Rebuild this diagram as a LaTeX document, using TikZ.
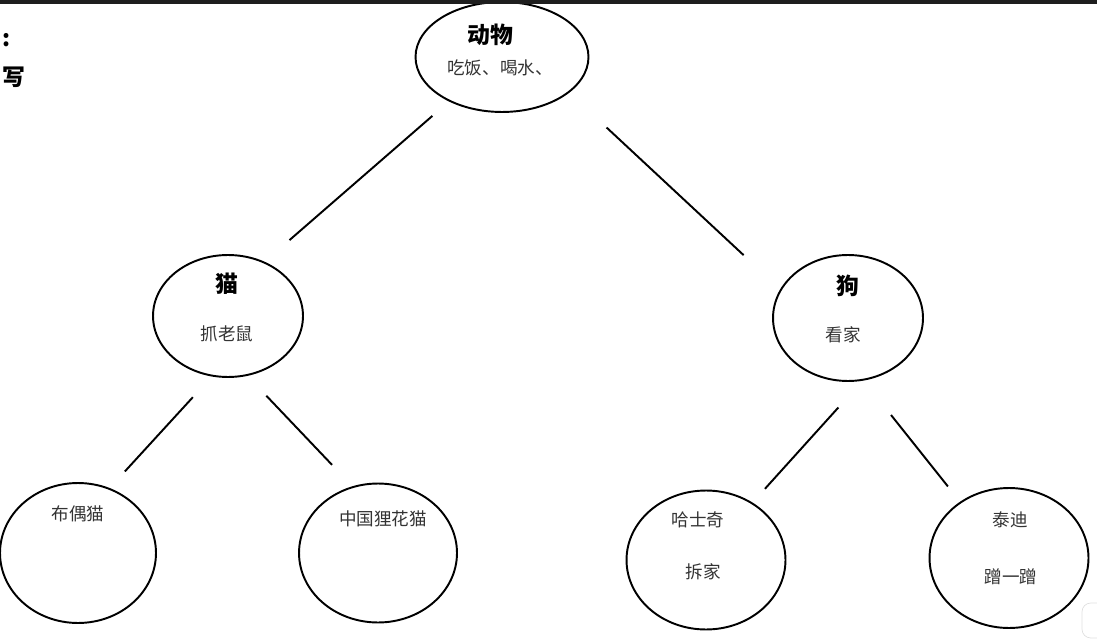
\documentclass[tikz,border=0pt]{standalone}
\usepackage{fontspec}
\setmainfont{Noto Sans CJK SC}
\usetikzlibrary{arrows,positioning,shapes.geometric}
\definecolor{txtgray}{HTML}{333333}
\definecolor{bargray}{HTML}{1E1E1E}

\begin{document}
\begin{tikzpicture}[x=0.02cm,y=-0.02cm,
  animal/.style={draw,ellipse,line width=1.1pt,inner sep=0pt},
  head/.style={font=\bfseries\fontsize{13}{15}\selectfont,black},
  note/.style={font=\fontsize{10}{12}\selectfont,txtgray},
  link/.style={line width=1.1pt}]
\useasboundingbox (0,0) rectangle (1097,641);
\clip (0,0) rectangle (1097,641);

\node[animal,minimum width=3.46cm,minimum height=2.2cm] (dw) at (502,57) {};
\node[animal,minimum width=3cm,minimum height=2.44cm] (mao) at (228,316) {};
\node[animal,minimum width=3cm,minimum height=2.52cm] (gou) at (848,318) {};
\node[animal,minimum width=3.12cm,minimum height=2.8cm] (bo) at (78,553) {};
\node[animal,minimum width=3.16cm,minimum height=2.78cm] (li) at (378,553) {};
\node[animal,minimum width=3.18cm,minimum height=2.78cm] (ha) at (706,560) {};
\node[animal,minimum width=3.18cm,minimum height=2.8cm] (tai) at (1009,558) {};

\node[head] (dwt) at (490,35) {动物};
\node[note] (dws) at (500,68) {吃饭、喝水、};
\node[head] (maot) at (227,284) {猫};
\node[note] (maos) at (227,334) {抓老鼠};
\node[head] (gout) at (848,286) {狗};
\node[note] (gous) at (843,335) {看家};
\node[note] (bot) at (78,514) {布偶猫};
\node[note] (lit) at (383,519) {中国狸花猫};
\node[note] (hat) at (698,520) {哈士奇};
\node[note] (has) at (703,572) {拆家};
\node[note] (tait) at (1010,520) {泰迪};
\node[note] (tais) at (1011,577) {蹭一蹭};

\draw[link,shorten <=0.44cm,shorten >=0.66cm] (dw.220) -- (mao.56);
\draw[link,shorten <=1.02cm,shorten >=1cm] (dw.332) -- (gou.157);
\draw[link,shorten <=0.56cm,shorten >=0.45cm] (mao.255) -- (bo.64);
\draw[link,shorten <=0.55cm,shorten >=0.59cm] (mao.288) -- (li.111);
\draw[link,shorten <=0.72cm,shorten >=0.37cm] (gou.283) -- (ha.51);
\draw[link,shorten <=0.88cm,shorten >=0.39cm] (gou.284) -- (tai.131);

\node[head,inner sep=0pt] (colon) at (7,40) {:};
\node[head,inner sep=0pt] (xie) at (14,77) {写};

\fill[bargray] (0,0) rectangle (1097,4);
\draw[gray!25,rounded corners=5pt] (1082,603) rectangle (1115,638);
\end{tikzpicture}
\end{document}
